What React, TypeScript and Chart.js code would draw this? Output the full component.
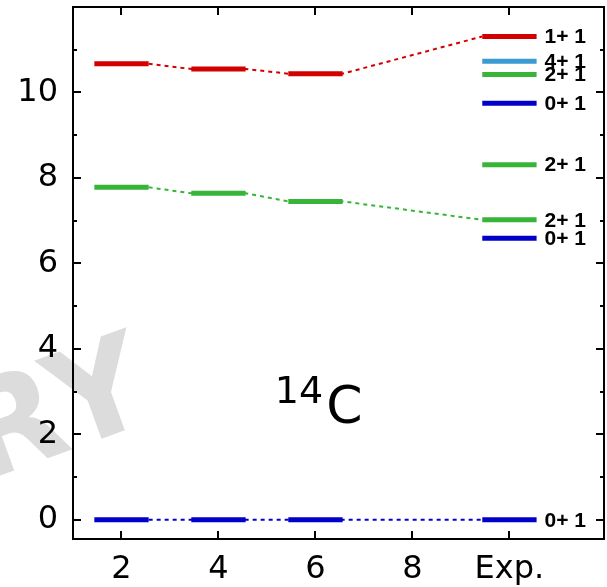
import React, { useEffect, useRef } from "react";
import { Chart, registerables } from "chart.js";
Chart.register(...registerables);

// ---- data ----
const theoryX = [2, 4, 6];
const expX = 10;
const xTicks = [2, 4, 6, 8, 10];
const xTickLabels = ["2", "4", "6", "8", "Exp."];
const yTicks = [0, 2, 4, 6, 8, 10];
const yMinorTicks = [1, 3, 5, 7, 9, 11];

const redTheory = [10.67, 10.55, 10.44];
const greenTheory = [7.78, 7.64, 7.45];
const blueTheory = [0, 0, 0];

const expLevels = [11.31, 10.73, 10.42, 9.75, 8.31, 7.02, 6.59, 0];
const expLabels = ["1+ 1", "4+ 1", "2+ 1", "0+ 1", "2+ 1", "2+ 1", "0+ 1", "0+ 1"];
const expKinds = ["red", "sky", "green", "blue", "green", "green", "blue", "blue"];

const nucleusMass = "14";
const nucleusSymbol = "C";
const watermark = "RY";

const COLORS: Record<string, string> = {
  red: "#d20000",
  sky: "#3a9ad2",
  green: "#38b438",
  blue: "#0000c8",
};

const HALF = 0.56;

function barPoints(xs: number[], ys: number[]) {
  const pts: any[] = [];
  xs.forEach((c, i) => {
    pts.push({ x: c - HALF, y: ys[i] });
    pts.push({ x: c + HALF, y: ys[i] });
    pts.push({ x: c + HALF, y: null });
  });
  return pts;
}

function connectorPoints(ys: number[], expVal: number) {
  const pts: any[] = [];
  theoryX.forEach((c, i) => {
    if (i > 0) pts.push({ x: c - HALF, y: ys[i] });
    pts.push({ x: c + HALF, y: ys[i] });
  });
  pts.push({ x: expX - HALF, y: expVal });
  return pts;
}

const series = [
  { kind: "red", values: redTheory, exp: expLevels[0] },
  { kind: "green", values: greenTheory, exp: expLevels[5] },
  { kind: "blue", values: blueTheory, exp: expLevels[7] },
];

const decorPlugin = {
  id: "decor",
  beforeDraw(chart: any) {
    const ctx = chart.ctx;
    ctx.save();
    ctx.translate(158, 418);
    ctx.rotate((-20 * Math.PI) / 180);
    ctx.fillStyle = "#dcdcdc";
    ctx.font = "bold 132px 'DejaVu Sans'";
    ctx.textAlign = "right";
    ctx.textBaseline = "alphabetic";
    ctx.fillText(watermark, 0, 0);
    ctx.restore();
  },
  afterDraw(chart: any) {
    const ctx = chart.ctx;
    const xs = chart.scales.x;
    const ys = chart.scales.y;
    const { left, right, top, bottom } = chart.chartArea;
    ctx.save();
    ctx.strokeStyle = "#000";
    ctx.lineWidth = 2;
    ctx.strokeRect(left, top, right - left, bottom - top);
    ctx.beginPath();
    const major = 8;
    const minor = 4;
    yTicks.forEach((v) => {
      const p = Math.round(ys.getPixelForValue(v));
      ctx.moveTo(left, p);
      ctx.lineTo(left + major, p);
      ctx.moveTo(right, p);
      ctx.lineTo(right - major, p);
    });
    yMinorTicks.forEach((v) => {
      const p = Math.round(ys.getPixelForValue(v));
      ctx.moveTo(left, p);
      ctx.lineTo(left + minor, p);
      ctx.moveTo(right, p);
      ctx.lineTo(right - minor, p);
    });
    xTicks.forEach((v) => {
      const p = Math.round(xs.getPixelForValue(v));
      ctx.moveTo(p, bottom);
      ctx.lineTo(p, bottom - major);
      ctx.moveTo(p, top);
      ctx.lineTo(p, top + major);
    });
    ctx.stroke();

    // level labels
    ctx.fillStyle = "#000";
    ctx.font = "bold 21px 'Liberation Sans'";
    ctx.textAlign = "left";
    ctx.textBaseline = "middle";
    const lx = xs.getPixelForValue(expX + HALF) + 8;
    expLevels.forEach((v, i) => {
      ctx.fillText(expLabels[i], lx, ys.getPixelForValue(v) + 1);
    });

    // nucleus label
    const ax = xs.getPixelForValue(6.22);
    const ay = ys.getPixelForValue(2.27);
    ctx.textBaseline = "alphabetic";
    ctx.font = "38px 'DejaVu Sans'";
    ctx.textAlign = "right";
    ctx.fillText(nucleusMass, ax - 3, ay - 20);
    ctx.font = "52px 'DejaVu Sans'";
    ctx.textAlign = "left";
    ctx.fillText(nucleusSymbol, ax, ay);
    ctx.restore();
  },
};

export default function App() {
  const ref = useRef<HTMLCanvasElement | null>(null);
  useEffect(() => {
    if (!ref.current) return;
    const datasets: any[] = [];
    series.forEach((s) => {
      datasets.push({
        data: connectorPoints(s.values, s.exp),
        borderColor: COLORS[s.kind],
        borderWidth: 2,
        borderDash: [4, 4],
        pointRadius: 0,
        order: 2,
      });
      datasets.push({
        data: barPoints(theoryX, s.values),
        borderColor: COLORS[s.kind],
        borderWidth: 5,
        borderCapStyle: "butt",
        pointRadius: 0,
        spanGaps: false,
        order: 1,
      });
    });
    expLevels.forEach((v, i) => {
      datasets.push({
        data: barPoints([expX], [v]),
        borderColor: COLORS[expKinds[i]],
        borderWidth: 5,
        borderCapStyle: "butt",
        pointRadius: 0,
        spanGaps: false,
        order: 0,
      });
    });

    const chart = new Chart(ref.current, {
      type: "line",
      data: { datasets },
      options: {
        animation: false,
        responsive: false,
        events: [],
        layout: { padding: { top: 7, right: 3, left: 0, bottom: 0 } },
        plugins: { legend: { display: false }, tooltip: { enabled: false } },
        scales: {
          x: {
            type: "linear",
            min: 1,
            max: 11.95,
            grid: { display: false },
            border: { display: false },
            afterBuildTicks: (s: any) => {
              s.ticks = xTicks.map((v) => ({ value: v }));
            },
            afterFit: (s: any) => {
              s.height = 48;
              s.paddingLeft = 0;
              s.paddingRight = 0;
            },
            ticks: {
              autoSkip: false,
              maxRotation: 0,
              padding: 3,
              color: "#000",
              font: { family: "'DejaVu Sans'", size: 32 },
              callback: (v: any) => xTickLabels[xTicks.indexOf(Number(v))] ?? "",
            },
          },
          y: {
            type: "linear",
            min: -0.45,
            max: 12,
            grid: { display: false },
            border: { display: false },
            afterBuildTicks: (s: any) => {
              s.ticks = yTicks.map((v) => ({ value: v }));
            },
            afterFit: (s: any) => {
              s.width = 73;
              s.paddingTop = 0;
              s.paddingBottom = 0;
            },
            ticks: {
              padding: 7,
              color: "#000",
              font: { family: "'DejaVu Sans'", size: 32 },
              callback: (v: any) => String(v),
            },
          },
        },
      },
      plugins: [decorPlugin],
    });
    return () => chart.destroy();
  }, []);
  return (
    <div style={{ position: "fixed", left: 0, top: 0, width: 607, height: 587, background: "#fff" }}>
      <canvas ref={ref} width={607} height={587} style={{ width: 607, height: 587 }} />
    </div>
  );
}
